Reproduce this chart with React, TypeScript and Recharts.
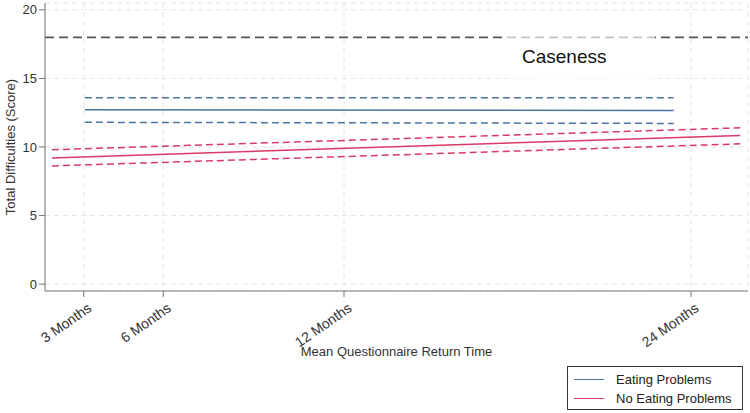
import React from "react";
import {
  LineChart,
  Line,
  XAxis,
  YAxis,
  CartesianGrid,
  ReferenceLine,
} from "recharts";

// X positions are mean questionnaire return times (months)
const xTicks = [3, 5.75, 12, 24];
const xTickLabels = ["3 Months", "6 Months", "12 Months", "24 Months"];
const yTicks = [0, 5, 10, 15, 20];

const eatingX = [3.04, 23.4];
const eatingMean = [12.72, 12.66];
const eatingUpper = [13.6, 13.6];
const eatingLower = [11.8, 11.72];

const noEatingX = [1.9, 25.7];
const noEatingMean = [9.2, 10.84];
const noEatingUpper = [9.8, 11.4];
const noEatingLower = [8.62, 10.23];

const casenessValue = 18;

const BLUE = "#4a74a3";
const RED = "#d93a63";
const FONT = "'Liberation Sans', Arial, sans-serif";

const eatingData = eatingX.map((x, i) => ({
  x,
  mean: eatingMean[i],
  upper: eatingUpper[i],
  lower: eatingLower[i],
}));
const noEatingData = noEatingX.map((x, i) => ({
  x,
  mean: noEatingMean[i],
  upper: noEatingUpper[i],
  lower: noEatingLower[i],
}));

const XTick = (props: any) => {
  const { x, y, payload } = props;
  const idx = xTicks.indexOf(payload.value);
  return (
    <g transform={`translate(${x + 3},${y + 3})`}>
      <text
        transform="rotate(-35)"
        textAnchor="end"
        dy="0.72em"
        fontSize={14}
        fill="#333"
        fontFamily={FONT}
      >
        {xTickLabels[idx]}
      </text>
    </g>
  );
};

const CasenessLabel = (props: any) => {
  const vb = props.viewBox || {};
  const lx = (vb.x ?? 0) + 462;
  const ly = vb.y ?? 0;
  return (
    <g>
      <rect x={lx} y={ly - 3} width={148} height={50} fill="#fff" fillOpacity={0.65} />
      <text x={lx + 15} y={ly + 26} fontSize={19} fill="#111" fontFamily={FONT}>
        Caseness
      </text>
    </g>
  );
};

const YTitle = (props: any) => {
  const vb = props.viewBox || {};
  const cy = (vb.y ?? 0) + (vb.height ?? 0) / 2;
  return (
    <text
      x={15}
      y={cy}
      transform={`rotate(-90, 15, ${cy})`}
      textAnchor="middle"
      fontSize={13}
      fill="#333"
      fontFamily={FONT}
    >
      Total Difficulties (Score)
    </text>
  );
};

export default function App() {
  return (
    <div style={{ position: "absolute", left: 0, top: 0, width: 750, height: 413, background: "#fff", fontFamily: FONT }}>
      <LineChart width={750} height={413} margin={{ top: 3, right: 2, bottom: 3, left: 0 }}>
        <CartesianGrid stroke="#e4e4e4" strokeDasharray="5 4" />
        <XAxis
          type="number"
          dataKey="x"
          domain={[1.66, 25.97]}
          ticks={xTicks}
          allowDataOverflow
          height={119}
          tick={<XTick />}
          tickLine={{ stroke: "#777" }}
          axisLine={{ stroke: "#777" }}
          tickSize={6}
          interval={0}
          label={{
            value: "Mean Questionnaire Return Time",
            position: "insideTop",
            offset: 56,
            fontSize: 13,
            fill: "#333",
            fontFamily: FONT,
          }}
        />
        <YAxis
          type="number"
          domain={[-0.5, 20.5]}
          ticks={yTicks}
          width={45}
          tickSize={6}
          tick={{ fontSize: 13, fill: "#333", fontFamily: FONT }}
          tickLine={{ stroke: "#777" }}
          axisLine={{ stroke: "#777" }}
          label={<YTitle />}
        />
        <ReferenceLine
          y={casenessValue}
          stroke="#555"
          strokeWidth={1.8}
          strokeDasharray="9 5"
          label={<CasenessLabel />}
        />
        <Line data={eatingData} dataKey="upper" stroke={BLUE} strokeWidth={1.5} strokeDasharray="7 4" dot={false} isAnimationActive={false} />
        <Line data={eatingData} dataKey="mean" stroke={BLUE} strokeWidth={1.5} dot={false} isAnimationActive={false} />
        <Line data={eatingData} dataKey="lower" stroke={BLUE} strokeWidth={1.5} strokeDasharray="7 4" dot={false} isAnimationActive={false} />
        <Line data={noEatingData} dataKey="upper" stroke={RED} strokeWidth={1.5} strokeDasharray="7 4" dot={false} isAnimationActive={false} />
        <Line data={noEatingData} dataKey="mean" stroke={RED} strokeWidth={1.5} dot={false} isAnimationActive={false} />
        <Line data={noEatingData} dataKey="lower" stroke={RED} strokeWidth={1.5} strokeDasharray="7 4" dot={false} isAnimationActive={false} />
      </LineChart>
      <div
        style={{
          position: "absolute",
          left: 567,
          top: 366,
          width: 176,
          height: 44,
          border: "1px solid #333",
          boxSizing: "border-box",
          fontSize: 13,
          color: "#222",
          fontFamily: FONT,
        }}
      >
        {[
          { name: "Eating Problems", color: BLUE },
          { name: "No Eating Problems", color: RED },
        ].map((it, i) => (
          <div key={i} style={{ position: "absolute", left: 6, top: 4 + i * 19, height: 16, display: "flex", alignItems: "center" }}>
            <span style={{ display: "inline-block", width: 30, height: 0, borderTop: `1.5px solid ${it.color}`, marginRight: 12 }} />
            <span>{it.name}</span>
          </div>
        ))}
      </div>
    </div>
  );
}
